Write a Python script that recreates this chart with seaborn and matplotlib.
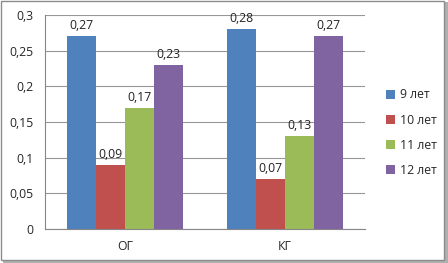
import seaborn as sns
import pandas as pd
import matplotlib.pyplot as plt
from matplotlib.patches import Rectangle

# data
groups = ["ОГ", "КГ"]
series = ["9 лет", "10 лет", "11 лет", "12 лет"]
values_og = [0.27, 0.09, 0.17, 0.23]
values_kg = [0.28, 0.07, 0.13, 0.27]
y_ticks = [0, 0.05, 0.1, 0.15, 0.2, 0.25, 0.3]
colors = ["#4F81BD", "#C0504D", "#9BBB59", "#8064A2"]

rows = []
for g, vals in zip(groups, [values_og, values_kg]):
    for s, v in zip(series, vals):
        rows.append({"group": g, "age": s, "value": v})
df = pd.DataFrame(rows)

sns.set_style("white")
plt.rcParams['font.family'] = ['Open Sans', 'DejaVu Sans']

fig = plt.figure(figsize=(4.48, 2.63), dpi=100)
ax = fig.add_axes([0.100, 0.129, 0.715, 0.814])

sns.barplot(data=df, x="group", y="value", hue="age", order=groups,
            hue_order=series, palette=colors, width=0.725, gap=0,
            saturation=1, ax=ax, errorbar=None, linewidth=0)

for cont in ax.containers:
    ax.bar_label(cont, labels=[f"{b.get_height():.2f}".replace(".", ",") for b in cont],
                 padding=3, fontsize=8.8, color="#222222")

ax.set_ylim(0, 0.3)
ax.set_xlim(-0.5, 1.5)
ax.set_yticks(y_ticks)
ax.set_yticklabels([("%g" % t).replace(".", ",") for t in y_ticks], fontsize=8.8)
ax.tick_params(axis="x", length=0, labelsize=8.8, pad=8)
ax.set_xticks([-0.5, 0.5, 1.5], minor=True)
ax.tick_params(axis="x", which="minor", length=4, color="#868686", width=0.8)
ax.tick_params(axis="y", length=4, color="#868686", width=0.8, pad=4)
ax.yaxis.grid(True, color="#969696", linewidth=0.8)
ax.set_axisbelow(True)
ax.set_xlabel("")
ax.set_ylabel("")
for side in ["top", "right"]:
    ax.spines[side].set_visible(False)
for side in ["left", "bottom"]:
    ax.spines[side].set_color("#868686")
    ax.spines[side].set_linewidth(0.8)

ax.legend(loc="center left", bbox_to_anchor=(1.03, 0.45), frameon=False,
          fontsize=8.8, handlelength=0.75, handleheight=0.75, handletextpad=0.4,
          labelspacing=1.0)

# outer border with shadow
fig.patches.append(Rectangle((0.006, 0.0), 0.994, 0.992, transform=fig.transFigure,
                             facecolor="#b0b0b0", edgecolor="none", zorder=-2))
fig.patches.append(Rectangle((0.002, 0.01), 0.99, 0.985, transform=fig.transFigure,
                             facecolor="white", edgecolor="#8c8c8c", linewidth=1, zorder=-1))

fig.savefig("out.png", dpi=100)
